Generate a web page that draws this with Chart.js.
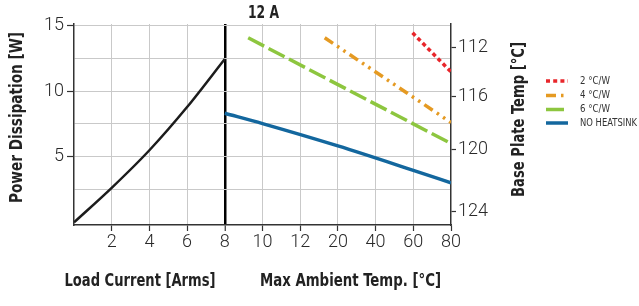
<!DOCTYPE html>
<html><head><meta charset="utf-8">
<script src="https://cdn.jsdelivr.net/npm/chart.js@4"></script>
<style>html,body{margin:0;padding:0;background:#fff}#wrap{width:639px;height:306px}</style>
</head><body><div id="wrap"><canvas id="c" width="639" height="306"></canvas></div>
<script>
// ---- data ----
const xTickLabels = ['', '2', '4', '6', '8', '10', '12', '20', '40', '60', '80'];
const loadCurrentIdx = [0, 1, 2, 3, 4];
const powerW = [0, 2.63, 5.49, 8.78, 12.44];
const noHsX = [4, 5, 7, 9, 10];
const noHsY = [8.31, 7.52, 5.82, 3.96, 3.01];
const hs6X = [4.62, 10];
const hs6Y = [14.05, 6.00];
const hs4X = [6.65, 10];
const hs4Y = [14.05, 7.60];
const hs2X = [8.98, 10];
const hs2Y = [14.43, 11.46];
const leftTicks = [2.5, 5, 7.5, 10, 12.5, 15];
const leftTickLabels = {5: '5', 10: '10', 15: '15'};
const baseTempLabels = ['112', '116', '120', '124'];
const baseTempAtW = [13.29, 9.55, 5.56, 0.86];

const FONT = "Roboto, 'DejaVu Sans Condensed', sans-serif";
const TFONT = "'DejaVu Sans Condensed', 'DejaVu Sans', sans-serif";
const pts = (xs, ys) => xs.map((x, i) => ({x: x, y: ys[i]}));

const datasets = [
  {label: 'load', data: pts(loadCurrentIdx, powerW), borderColor: '#1c1c1c', borderWidth: 2.5, cubicInterpolationMode: 'monotone', legend: false},
  {label: '2 °C/W', data: pts(hs2X, hs2Y), borderColor: '#e8262b', borderWidth: 3.5, borderDash: [4, 3.2]},
  {label: '4 °C/W', data: pts(hs4X, hs4Y), borderColor: '#e59a22', borderWidth: 3.5, borderDash: [10, 5, 2.5, 5, 2.5, 5]},
  {label: '6 °C/W', data: pts(hs6X, hs6Y), borderColor: '#8dc63f', borderWidth: 3.5, borderDash: [18, 5]},
  {label: 'NO HEATSINK', data: pts(noHsX, noHsY), borderColor: '#13679e', borderWidth: 3.5, cubicInterpolationMode: 'monotone'}
];
datasets.forEach(d => { d.pointRadius = 0; d.fill = false; d.borderCapStyle = 'butt'; });

function fitText(ctx, text, x, y, w, rot, align) {
  const m = ctx.measureText(text).width;
  ctx.save();
  ctx.translate(x, y);
  if (rot) ctx.rotate(rot);
  ctx.scale(Math.min(1, w / m), 1);
  ctx.textAlign = align || 'center';
  ctx.fillText(text, 0, 0);
  ctx.restore();
}

const textPlugin = {
  id: 'texts',
  afterDraw(chart) {
    const ctx = chart.ctx;
    ctx.save();
    ctx.fillStyle = '#222';
    ctx.textBaseline = 'middle';
    ctx.font = "bold 18px " + TFONT;
    fitText(ctx, '12 A', 263.5, 13, 31);
    fitText(ctx, 'Load Current [Arms]', 140, 281, 151);
    fitText(ctx, 'Max Ambient Temp. [°C]', 350.5, 281, 181);
    fitText(ctx, 'Power Dissipation [W]', 17.5, 117.5, 171, -Math.PI / 2);
    fitText(ctx, 'Base Plate Temp [°C]', 519, 119.5, 155, -Math.PI / 2);
    // legend
    const items = chart.data.datasets.filter(d => d.legend !== false);
    const ys = [81, 95.5, 109.5, 123];
    items.forEach((d, i) => {
      ctx.beginPath();
      ctx.setLineDash(d.borderDash || []);
      ctx.strokeStyle = d.borderColor;
      ctx.lineWidth = 3.5;
      ctx.moveTo(546, ys[i]); ctx.lineTo(568, ys[i]);
      ctx.stroke();
      ctx.setLineDash([]);
      ctx.fillStyle = '#333';
      ctx.font = "11px " + TFONT;
      const target = {'2 °C/W': 30, '4 °C/W': 30, '6 °C/W': 30, 'NO HEATSINK': 57}[d.label] || 57;
      fitText(ctx, d.label, 580, ys[i], target, 0, 'left');
    });
    ctx.restore();
  }
};

new Chart(document.getElementById('c'), {
  type: 'line',
  data: {datasets: datasets},
  plugins: [textPlugin],
  options: {
    responsive: false, animation: false, events: [],
    layout: {padding: {top: 24, left: 0, right: 0, bottom: 0}},
    plugins: {legend: {display: false}, tooltip: {enabled: false}},
    scales: {
      x: {
        type: 'linear', min: 0, max: 10,
        afterBuildTicks: s => { s.ticks = xTickLabels.map((_, i) => ({value: i})); },
        afterFit: s => { s.height = 81; },
        ticks: {callback: (v) => xTickLabels[v] || '', color: '#2a2a2a', font: {family: FONT, size: 18, weight: 300}, padding: 1, maxRotation: 0, autoSkip: false},
        grid: {
          color: c => c.tick && c.tick.value === 4 ? '#000' : (c.tick && (c.tick.value === 0 || c.tick.value === 10) ? 'rgba(0,0,0,0)' : '#c9c9c9'),
          lineWidth: c => c.tick && c.tick.value === 4 ? 2.5 : 1,
          tickColor: c => c.tick && c.tick.value === 0 ? 'rgba(0,0,0,0)' : '#333',
          tickWidth: 1.2, tickLength: 6
        },
        border: {color: '#333', width: 1.5}
      },
      y: {
        type: 'linear', min: -0.2, max: 15.1,
        afterBuildTicks: s => { s.ticks = leftTicks.map(v => ({value: v})); },
        afterFit: s => { s.width = 74; },
        ticks: {callback: v => leftTickLabels[v] || '', color: '#2a2a2a', font: {family: FONT, size: 18, weight: 300}, padding: 3, autoSkip: false},
        grid: {color: '#c9c9c9', lineWidth: 1, tickColor: c => c.tick && leftTickLabels[c.tick.value] ? '#333' : 'rgba(0,0,0,0)', tickWidth: 1.2, tickLength: 7},
        border: {color: '#333', width: 1.5}
      },
      y2: {
        type: 'linear', position: 'right', min: -0.2, max: 15.1,
        afterBuildTicks: s => { s.ticks = baseTempAtW.map(v => ({value: v})); },
        afterFit: s => { s.width = 188; },
        ticks: {callback: (v, i) => baseTempLabels[i], color: '#2a2a2a', font: {family: FONT, size: 18, weight: 300}, padding: 2, autoSkip: false},
        grid: {drawOnChartArea: false, tickColor: '#333', tickWidth: 1.2, tickLength: 5},
        border: {color: '#333', width: 1.5}
      }
    }
  }
});
</script></body></html>
